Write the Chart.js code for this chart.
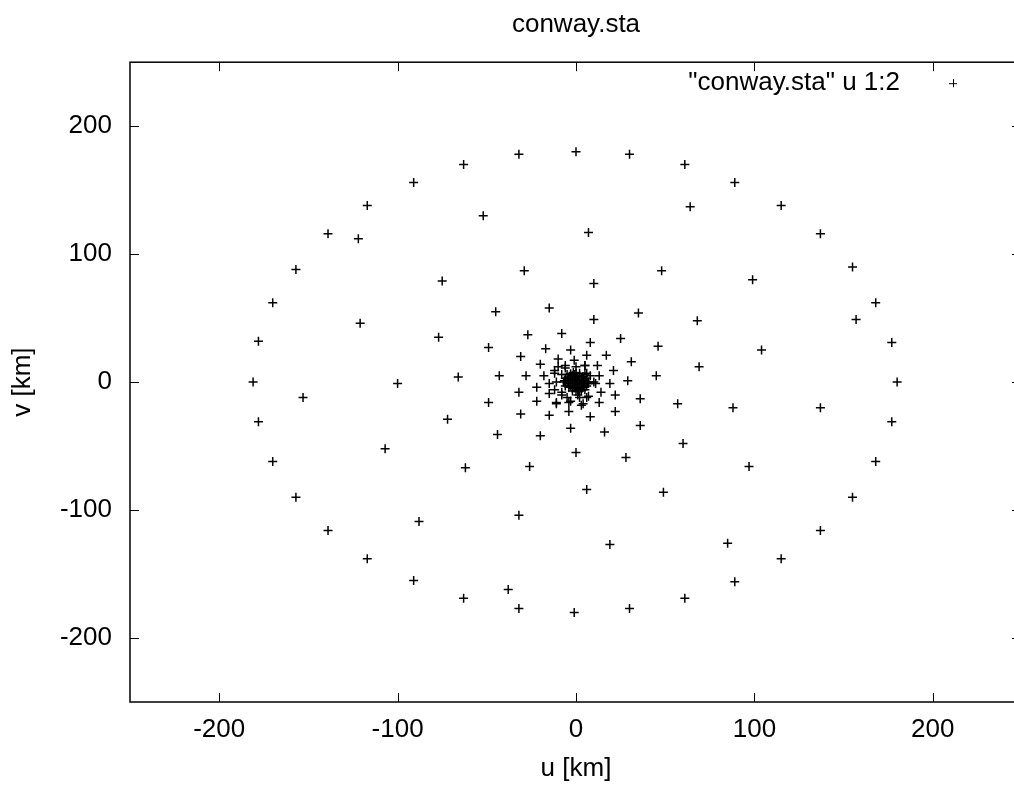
<!DOCTYPE html>
<html>
<head>
<meta charset="utf-8">
<title>conway.sta</title>
<script src="https://cdn.jsdelivr.net/npm/chart.js@4.4.1/dist/chart.umd.min.js"></script>
<style>
html, body { margin: 0; padding: 0; background: #fff; overflow: hidden; }
#chart { display: block; }
</style>
</head>
<body>
<canvas id="chart" width="1040" height="786"></canvas>
<script>
// station positions, u = east, v = north (km)
const uKm = [
    // outer ring
    0, 30, 61, 89, 115, 137, 155, 168, 177, 180, 177, 168, 155, 137, 115, 89, 61, 30,
    -1, -32, -63, -91, -117, -139, -157, -170, -178, -181, -178, -170, -157, -139, -117, -91, -63, -32,
    // upper left
    -122, -52, -29, -75, -15, -45, -121, -27, -8, -77, -49, -17, -3, -31, -10, -20, -1, -12, -6, -66, -43, -28, -18, -100,
    // upper right
    64, 7, 48, 99, 10, 35, 157, 10, 68, 8, 25, 46, 104, 6, 17, 31, 69, 5, 12, 21, 13, 45, 29, 19, 11,
    // lower left
    -153, -72, -49, -32, -22, -22, -15, -11, -3, -8, -31, -15, -4, -44, -20, -3, -107, -62, -26, 0, -32, -88, -38,
    // lower right
    36, 57, 88, 137, 22, 14, 7, 4, 13, 22, 8, 36, 16, 60, 28, 97, 6, 49, 19, 85, 2,
    // around the core
    -10, -6, 0, 5, -12, -8, -11, -15, -12, -8, -5, 1, 6, 5, 7, 10, 8, 6, -4, 3, -11,
    // core
    0, 1, -1, 2, -2, 0, 0, 3, -3, 3, -3, 1, -1, 4, -4, 2, -2, 2, -2, 4, -4, 4, -4, 5, -5, 1, -1, 3, -0.5,
    6, -6, 6, -6, 0, 0, 5, -5, 3, -3, 7, -7, 2, -2, 6.5, -6.5, 1.5, -1.5, 4.5, -4.5
];
const vKm = [
    180, 178, 170, 156, 138, 116, 90, 62, 31, 0, -31, -62, -90, -116, -138, -156, -169, -177,
    -180, -177, -169, -155, -138, -116, -90, -62, -31, 0, 32, 62, 88, 116, 138, 156, 170, 178,
    112, 130, 87, 79, 58, 55, 46, 37, 38, 35, 27, 26, 25, 20, 18, 14, 17, 9, 11, 4, 5, 5, 5, -1,
    137, 117, 87, 80, 77, 54, 49, 49, 48, 31, 34, 28, 25, 21, 21, 16, 12, 13, 13, 9, 5, 5, 1, -1, -1,
    -12, -29, -16, -8, -4, -15, -9, -17, -15, -10, -25, -26, -23, -41, -42, -36, -52, -67, -66, -55, -104, -109, -162,
    -13, -17, -20, -20, -10, -8, -11, -17, -16, -23, -27, -34, -39, -48, -59, -66, -84, -86, -127, -126, -12,
    12, 13, 12, 13, 7, 6, 0, -1, -6, -8, -12, -10, -12, -6, -1, 0, 5, 7, -16, -18, -16,
    0, 1, 1, -1, -1, 2, -2, 2, 2, -3, -3, 4, -4, 0, 0, 5, 5, -5, -5, 4, 4, -4, -4, 1, -1, -6, 6, 0.5, 3,
    3, 3, -3, -3, 7, -7, 6, 6, -6.5, 6.5, 0, 0, 7, -7, -1, 1, -7.5, 7.5, -1.5, 1.5
];
const xTicks = [-200, -100, 0, 100, 200];
const yTicks = [-200, -100, 0, 100, 200];
const seriesLabel = '"conway.sta" u 1:2';

const fontFamily = "'Liberation Sans', Arial, sans-serif";
const textFont = { family: fontFamily, size: 26, weight: 'normal' };

// gnuplot style box with inward ticks
const framePlugin = {
    id: 'frame',
    afterDatasetsDraw(chart) {
        const { ctx, chartArea: a, scales } = chart;
        ctx.save();
        ctx.strokeStyle = '#000';
        ctx.lineWidth = 1;
        ctx.beginPath();
        xTicks.forEach(t => {
            const x = Math.round(scales.x.getPixelForValue(t)) + 0.5;
            ctx.moveTo(x, a.bottom); ctx.lineTo(x, a.bottom - 9);
            ctx.moveTo(x, a.top); ctx.lineTo(x, a.top + 9);
        });
        yTicks.forEach(t => {
            const y = Math.round(scales.y.getPixelForValue(t)) + 0.5;
            ctx.moveTo(a.left, y); ctx.lineTo(a.left + 9, y);
            ctx.moveTo(a.right, y); ctx.lineTo(a.right - 10, y);
        });
        ctx.stroke();
        ctx.lineWidth = 1.5;
        ctx.strokeRect(a.left, a.top, a.right - a.left, a.bottom - a.top);
        ctx.restore();
    }
};

// key in the top right corner: text, then the marker
const keyPlugin = {
    id: 'key',
    afterDraw(chart) {
        const { ctx, chartArea: a } = chart;
        const y = a.top + 21;
        ctx.save();
        ctx.fillStyle = '#000';
        ctx.font = `${textFont.size}px ${fontFamily}`;
        ctx.textAlign = 'right';
        ctx.textBaseline = 'middle';
        ctx.fillText(chart.data.datasets[0].label, a.right - 122, y);
        const mx = a.right - 69;
        ctx.strokeStyle = '#000';
        ctx.lineWidth = 1;
        ctx.beginPath();
        ctx.moveTo(mx - 4, y + 0.5); ctx.lineTo(mx + 4, y + 0.5);
        ctx.moveTo(mx + 0.5, y - 4); ctx.lineTo(mx + 0.5, y + 4);
        ctx.stroke();
        ctx.restore();
    }
};

new Chart(document.getElementById('chart'), {
    type: 'scatter',
    data: {
        datasets: [{
            label: seriesLabel,
            data: uKm.map((u, i) => ({ x: u, y: vKm[i] })),
            pointStyle: 'cross',
            pointRadius: 4.5,
            pointBorderWidth: 1.5,
            borderColor: '#000',
            backgroundColor: '#000'
        }]
    },
    options: {
        responsive: false,
        animation: false,
        layout: { padding: { left: 0, right: 18, top: 0, bottom: 0 } },
        plugins: {
            legend: { display: false },
            tooltip: { enabled: false },
            title: {
                display: true,
                text: 'conway.sta',
                fullSize: false,
                color: '#000',
                font: textFont,
                padding: { top: 9, bottom: 22 }
            }
        },
        scales: {
            x: {
                type: 'linear',
                min: -250,
                max: 250,
                afterBuildTicks: s => { s.ticks = xTicks.map(v => ({ value: v })); },
                afterFit: s => { s.height = 84; },
                grid: { display: false, drawTicks: false },
                border: { display: false },
                ticks: { color: '#000', font: textFont, padding: 12, maxRotation: 0 },
                title: { display: true, text: 'u [km]', color: '#000', font: textFont, padding: { top: 0, bottom: 2 } }
            },
            y: {
                type: 'linear',
                min: -250,
                max: 250,
                afterBuildTicks: s => { s.ticks = yTicks.map(v => ({ value: v })); },
                afterFit: s => { s.width = 130; },
                grid: { display: false, drawTicks: false },
                border: { display: false },
                ticks: { color: '#000', font: textFont, padding: 18 },
                title: { display: true, text: 'v [km]', color: '#000', font: textFont, padding: { top: 7, bottom: 0 } }
            }
        }
    },
    plugins: [framePlugin, keyPlugin]
});
</script>
</body>
</html>
